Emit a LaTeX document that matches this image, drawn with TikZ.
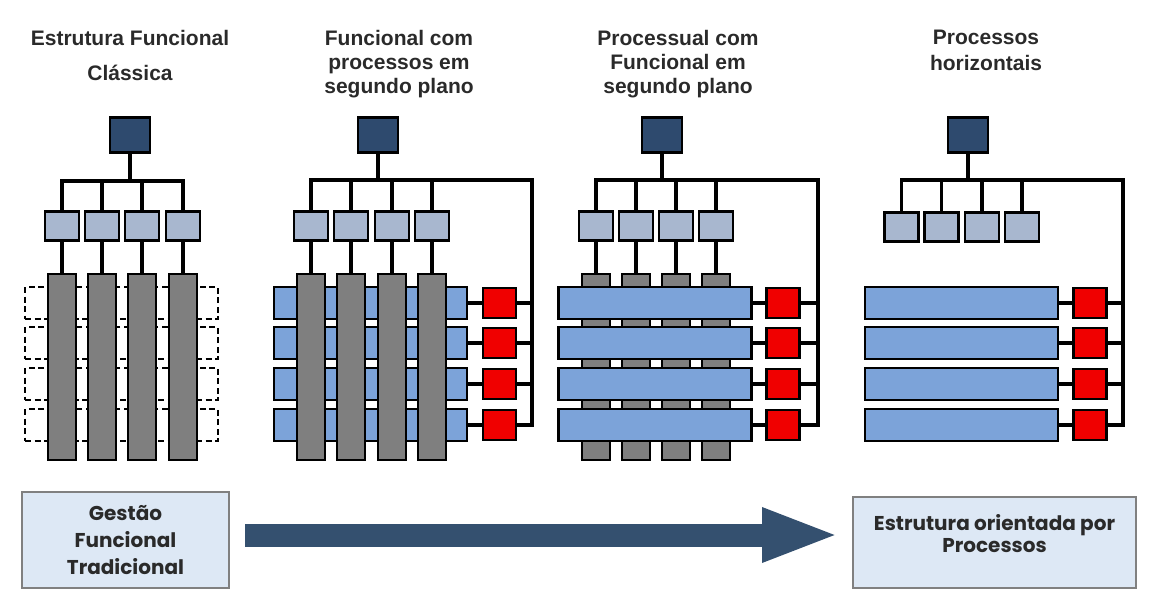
\documentclass[tikz,border=0pt]{standalone}
\usepackage{fontspec}
\usepackage{xcolor}
\usetikzlibrary{positioning,arrows.meta,backgrounds}
\newfontfamily\titlefont{Liberation Sans}
\newfontfamily\boxfont{Poppins}
\definecolor{topblue}{HTML}{2E4A6E}
\definecolor{funcblue}{HTML}{A8B7CF}
\definecolor{bargray}{HTML}{7F7F7F}
\definecolor{procblue}{HTML}{7CA3D9}
\definecolor{ownerred}{HTML}{F00000}
\definecolor{endfill}{HTML}{DDE8F5}
\definecolor{endline}{HTML}{808080}
\definecolor{arrowblue}{HTML}{34506F}
\definecolor{textgray}{HTML}{2A2A2A}
\tikzset{%
headbox/.style={draw,fill=topblue,minimum width=40pt,minimum height=35pt,inner sep=0,line width=2.2pt},
func/.style={draw,fill=funcblue,minimum width=34pt,minimum height=29pt,inner sep=0,line width=2.2pt},
bar/.style={draw,fill=bargray,minimum width=28pt,minimum height=186pt,inner sep=0,line width=2.2pt},
ghost/.style={draw,dash pattern=on 6pt off 3.5pt,fill=white,minimum width=193pt,minimum height=32pt,inner sep=0,line width=2.2pt},
proc/.style={draw,fill=procblue,minimum width=193pt,minimum height=32pt,inner sep=0,line width=2.2pt},
owner/.style={draw,fill=ownerred,minimum width=33pt,minimum height=30pt,inner sep=0,line width=2.2pt},
link/.style={line width=3.4pt},
paneltitle/.style={anchor=north,align=center,inner sep=0,text=textgray},
endbox/.style={draw=endline,fill=endfill,line width=2pt,inner sep=0,align=center,text=textgray},
bigarrow/.style={arrowblue,line width=23pt,-{Triangle[length=78pt,width=49pt]}}
}
\begin{document}
\begin{tikzpicture}[x=1pt,y=-1pt]
  \useasboundingbox (0,0) rectangle (1172,605);

  % titles
  \node[paneltitle,font=\titlefont\bfseries\fontsize{21}{35}\selectfont] (tt1) at (130,30) {Estrutura Funcional\\Clássica};
  \node[paneltitle,font=\titlefont\bfseries\fontsize{21}{24}\selectfont] (tt2) at (399,30) {Funcional com\\processos em\\segundo plano};
  \node[paneltitle,font=\titlefont\bfseries\fontsize{21}{24}\selectfont] (tt3) at (678,30) {Processual com\\Funcional em\\segundo plano};
  \node[paneltitle,font=\titlefont\bfseries\fontsize{21}{26}\selectfont] (tt4) at (986,30) {Processos\\horizontais};

  % 1: estrutura funcional classica
  \node[headbox] (t1) at (130,135) {};
  \coordinate (b1) at (130,181);
  \foreach \y [count=\k] in {303,343,384,425}
    \node[ghost] (d1\k) at (121.5,\y) {};
  \foreach \x [count=\k] in {62,102,142,183} {
    \node[func] (f1\k) at (\x,226) {};
    \node[bar] (g1\k) at (\x,367) {};
  }
  \begin{scope}[on background layer]
    \draw[link] (t1) -- (b1);
    \foreach \k in {1,...,4} {
      \draw[link] (b1) -| (f1\k.north);
      \draw[link] (f1\k) -- (g1\k);
    }
  \end{scope}

  % 2: funcional com processos em segundo plano
  \node[headbox] (t2) at (378,135) {};
  \coordinate (b2) at (378,180);
  \coordinate (v2) at (532,180);
  \foreach \y [count=\k] in {303,343,384,425} {
    \node[proc] (p2\k) at (370.5,\y) {};
    \node[owner] (r2\k) at (499.5,\y) {};
  }
  \foreach \x [count=\k] in {311,351,392,432} {
    \node[func] (f2\k) at (\x,226) {};
    \node[bar] (g2\k) at (\x,367) {};
  }
  \begin{scope}[on background layer]
    \draw[link] (t2) -- (b2);
    \draw[link] (b2) -- (v2) |- (r24.east);
    \foreach \k in {1,...,4} {
      \draw[link] (b2) -| (f2\k.north);
      \draw[link] (f2\k) -- (g2\k);
      \draw[link] (p2\k) -- (r2\k);
      \draw[link] (r2\k.east) -- (r2\k.east -| v2);
    }
  \end{scope}

  % 3: processual com funcional em segundo plano
  \node[headbox] (t3) at (662,135) {};
  \coordinate (b3) at (662,180);
  \coordinate (v3) at (818,180);
  \foreach \x [count=\k] in {596,636,676,716} {
    \node[func] (f3\k) at (\x,226) {};
    \node[bar] (g3\k) at (\x,367) {};
  }
  \foreach \y [count=\k] in {303,343,384,425} {
    \node[proc] (p3\k) at (655,\y) {};
    \node[owner] (r3\k) at (783,\y) {};
  }
  \begin{scope}[on background layer]
    \draw[link] (t3) -- (b3);
    \draw[link] (b3) -- (v3) |- (r34.east);
    \foreach \k in {1,...,4} {
      \draw[link] (b3) -| (f3\k.north);
      \draw[link] (f3\k) -- (g3\k);
      \draw[link] (p3\k) -- (r3\k);
      \draw[link] (r3\k.east) -- (r3\k.east -| v3);
    }
  \end{scope}

  % 4: processos horizontais
  \node[headbox] (t4) at (968,135) {};
  \coordinate (b4) at (968,180);
  \coordinate (v4) at (1123,180);
  \foreach \x [count=\k] in {901.5,941.5,982,1022}
    \node[func] (f4\k) at (\x,227) {};
  \foreach \y [count=\k] in {303,343,384,425} {
    \node[proc] (p4\k) at (961.5,\y) {};
    \node[owner] (r4\k) at (1090,\y) {};
  }
  \begin{scope}[on background layer]
    \draw[link] (t4) -- (b4);
    \draw[link] (b4) -- (v4) |- (r44.east);
    \foreach \k in {1,...,4} {
      \draw[link] (b4) -| (f4\k.north);
      \draw[link] (p4\k) -- (r4\k);
      \draw[link] (r4\k.east) -- (r4\k.east -| v4);
    }
  \end{scope}

  % bottom
  \node[endbox,minimum width=207pt,minimum height=96pt,font=\boxfont\bfseries\fontsize{20}{27}\selectfont] (gft) at (125.5,540) {Gestão\\Funcional\\Tradicional};
  \node[endbox,anchor=north west,minimum width=283pt,text height=55pt,text depth=36pt,font=\boxfont\bfseries\fontsize{20}{22}\selectfont] (eop) at (852,496) {Estrutura orientada por\\Processos};
  \draw[bigarrow,shorten <=15pt,shorten >=12pt] ([yshift=5pt]gft.east) -- ([yshift=5pt]gft.east -| eop.west);
\end{tikzpicture}
\end{document}
